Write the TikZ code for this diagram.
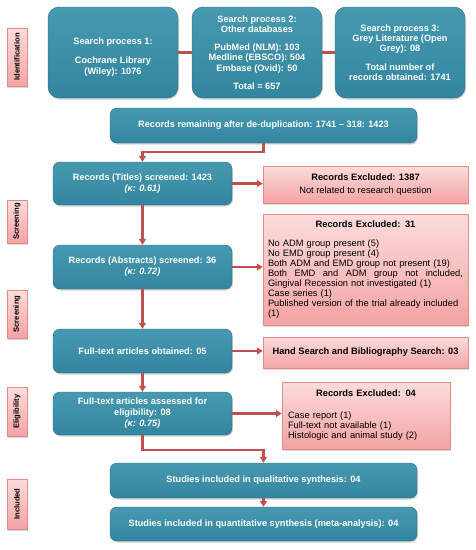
\documentclass[tikz,border=0pt]{standalone}
\usepackage{fontspec}
\setmainfont{Liberation Sans}
\usetikzlibrary{arrows.meta,shadows}
\definecolor{tealtop}{HTML}{4799B1}
\definecolor{tealbot}{HTML}{33869F}
\definecolor{pinktop}{HTML}{FCDCDC}
\definecolor{pinkbot}{HTML}{F4A3A3}
\definecolor{pinkedge}{HTML}{E38A8A}
\definecolor{linered}{HTML}{C0504D}
\tikzset{
  tealbox/.style={rounded corners=7pt, top color=tealtop, bottom color=tealbot, draw=tealbot!80!black, line width=0.4pt,
    text=white, font=\fontsize{9.2}{11}\selectfont\bfseries, align=center, inner sep=3pt,
    drop shadow={opacity=0.35, shadow xshift=1pt, shadow yshift=-1.5pt}},
  pinkbox/.style={top color=pinktop, bottom color=pinkbot, draw=pinkedge, line width=0.5pt,
    text=black, font=\fontsize{9.3}{10}\selectfont, inner sep=4pt,
    drop shadow={opacity=0.3, shadow xshift=1pt, shadow yshift=-1.5pt}},
  sidelabel/.style={top color=pinktop, bottom color=pinkbot, draw=pinkedge, line width=0.5pt,
    rotate=90, font=\fontsize{7.6}{8}\selectfont\bfseries, inner sep=1pt, minimum height=20pt,
    drop shadow={opacity=0.3, shadow xshift=1pt, shadow yshift=-1.5pt}},
  conn/.style={draw=linered, line width=2.2pt, -{Triangle[width=7pt,length=6pt]}},
  plainconn/.style={draw=linered, line width=2.2pt}
}
\begin{document}
\begin{tikzpicture}[x=1pt,y=-1pt]
\useasboundingbox (0,0) rectangle (475,550);
% side labels
\node[sidelabel, minimum width=58pt] (lid) at (17,57) {Identification};
\node[sidelabel, minimum width=43pt] (lsc1) at (17,221.5) {Screening};
\node[sidelabel, minimum width=48pt] (lsc2) at (17,314) {Screening};
\node[sidelabel, minimum width=49pt] (lel) at (17,411.5) {Eligibility};
\node[sidelabel, minimum width=50pt] (lin) at (17,504) {Included};
% top boxes
\node[tealbox, rounded corners=11pt, minimum width=130pt, minimum height=91pt, font=\fontsize{9.2}{11}\selectfont\bfseries] (s1) at (113,52.5)
  {\rule{0pt}{15pt}Search process 1:\\[8pt]Cochrane Library\\(Wiley): 1076};
\node[tealbox, rounded corners=11pt, minimum width=130pt, minimum height=91pt, font=\fontsize{9.2}{10.3}\selectfont\bfseries] (s2) at (257,52.5)
  {Search process 2:\\Other databases\\[8pt]PubMed (NLM): 103\\Medline (EBSCO): 504\\Embase (Ovid): 50\\[8pt]Total = 657};
\node[tealbox, rounded corners=11pt, minimum width=130pt, minimum height=91pt, font=\fontsize{9.2}{10.3}\selectfont\bfseries] (s3) at (400,52.5)
  {Search process 3:\\Grey Literature (Open\\Grey): 08\\[8pt]Total number of\\records obtained: 1741};
\node[tealbox, minimum width=307pt, minimum height=35pt] (dedup) at (263.5,125.5)
  {Records remaining after de-duplication: 1741 -- 318: 1423};
% screening
\node[tealbox, minimum width=179pt, minimum height=43pt] (titles) at (142.5,183.5)
  {Records (Titles) screened: 1423\\\textit{(κ: 0.61)}};
\node[pinkbox, minimum width=205pt, minimum height=37pt, align=center] (ex1) at (365.5,184.5)
  {\textbf{Records Excluded: 1387}\\[3pt]Not related to research question};
\node[tealbox, minimum width=179pt, minimum height=44pt] (abs) at (142.5,267)
  {Records (Abstracts) screened: 36\\\textit{(κ: 0.72)}};
\node[pinkbox, minimum width=205pt, minimum height=111pt, text width=195pt, align=left] (ex2) at (365.5,269.5)
  {\makebox[\hsize]{\bfseries Records Excluded: 31}\\[9pt]
   No ADM group present (5)\\
   No EMD group present (4)\\
   Both ADM and EMD group not present (19)\\
   \makebox[\hsize][s]{Both\hfill EMD\hfill and\hfill ADM\hfill group\hfill not\hfill included,}\\
   Gingival Recession not investigated (1)\\
   Case series (1)\\
   Published version of the trial already included\\
   (1)};
\node[tealbox, minimum width=179pt, minimum height=44pt] (full) at (142.5,351)
  {Full-text articles obtained: 05};
\node[pinkbox, minimum width=205pt, minimum height=31pt, align=center] (hand) at (365.5,352.5)
  {\textbf{Hand Search and Bibliography Search: 03}};
% eligibility
\node[tealbox, minimum width=179pt, minimum height=43pt] (elig) at (142.5,413.5)
  {Full-text articles assessed for\\eligibility: 08\\\textit{(κ: 0.75)}};
\node[pinkbox, minimum width=168pt, minimum height=67pt, text width=156pt, align=left] (ex3) at (366,415.5)
  {\makebox[\hsize]{\bfseries Records Excluded: 04}\\[12pt]
   Case report (1)\\
   Full-text not available (1)\\
   Histologic and animal study (2)};
% included
\node[tealbox, minimum width=307pt, minimum height=35pt] (qual) at (263.5,480.5)
  {Studies included in qualitative synthesis: 04};
\node[tealbox, minimum width=307pt, minimum height=34pt] (quant) at (263.5,524)
  {Studies included in quantitative synthesis (meta-analysis): 04};
% connectors
\draw[plainconn] (s1.east) -- (s2.west);
\draw[plainconn] (s2.east) -- (s3.west);
\coordinate (j1) at (0,152);
\coordinate (j2) at (0,450);
\draw[conn] (dedup.south) -- (dedup.south |- j1) -| (titles.north);
\draw[conn] (titles.east) -- (ex1.west |- titles.east);
\draw[conn] (titles.south) -- (abs.north);
\draw[conn] (abs.east) -- (ex2.west |- abs.east);
\draw[conn] (abs.south) -- (full.north);
\draw[conn] (full.east) -- (hand.west |- full.east);
\draw[conn] (full.south) -- (elig.north);
\draw[conn] (elig.east) -- (ex3.west |- elig.east);
\draw[conn] (elig.south) -- (elig.south |- j2) -| (qual.north);
\draw[conn] (qual.south) -- (quant.north);
\end{tikzpicture}
\end{document}
